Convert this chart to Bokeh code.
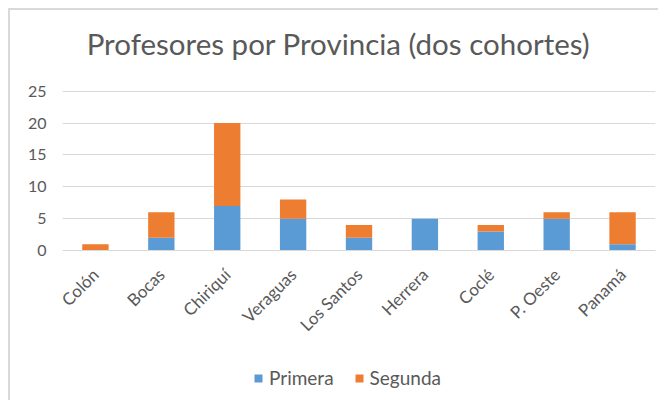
import math
from bokeh.plotting import figure
from bokeh.layouts import column
from bokeh.models import (FactorRange, Range1d, Legend, LegendItem, FixedTicker,
                          ColumnDataSource, Label)
from bokeh.embed import file_html
from bokeh.resources import INLINE

provincias = ["Colón", "Bocas", "Chiriquí", "Veraguas", "Los Santos",
              "Herrera", "Coclé", "P. Oeste", "Panamá"]
primera = [0, 2, 7, 5, 2, 5, 3, 5, 1]
segunda = [1, 4, 13, 3, 2, 0, 1, 1, 5]
y_ticks = [0, 5, 10, 15, 20, 25]
series = ["Primera", "Segunda"]
colors = ["#5B9BD5", "#ED7D31"]
titulo = "Profesores por Provincia (dos cohortes)"

FONT = "Lato"
GREY = "#595959"
BORDER = "2px solid #d9d9d9"

src = ColumnDataSource(dict(x=provincias, Primera=primera, Segunda=segunda))

# title strip
tf = figure(width=650, height=70, x_range=Range1d(0, 1), y_range=Range1d(0, 1),
            output_backend="svg", toolbar_location=None, title=None,
            x_axis_location=None, y_axis_location=None, min_border=0,
            margin=(8, 0, 0, 8), styles={"border-left": BORDER, "border-top": BORDER})
tf.grid.visible = False
tf.outline_line_color = None
tf.add_layout(Label(x=276, y=37, x_units="screen", y_units="screen", text=titulo,
                    text_align="center", text_baseline="middle",
                    text_font=FONT, text_font_size="29.5px", text_color=GREY))

# main chart
p = figure(x_range=FactorRange(*provincias), y_range=Range1d(0, 25.1), title=None,
           frame_width=591, frame_height=160, output_backend="svg", toolbar_location=None,
           min_border_left=52, min_border_right=7, min_border_top=12,
           min_border_bottom=100, margin=(0, 0, 0, 8),
           styles={"border-left": BORDER})

r = p.vbar_stack(series, x="x", width=0.4, color=colors, source=src, line_color=None)

p.xgrid.grid_line_color = None
p.ygrid.grid_line_color = "#d9d9d9"
p.ygrid.grid_line_width = 1
p.yaxis.ticker = FixedTicker(ticks=y_ticks)
p.yaxis.axis_line_color = None
p.xaxis.axis_line_color = "#d9d9d9"
for ax in (p.xaxis, p.yaxis):
    ax.major_tick_line_color = None
    ax.minor_tick_line_color = None
    ax.major_tick_out = 0
    ax.major_tick_in = 0
    ax.minor_tick_out = 0
    ax.major_label_text_font = FONT
    ax.major_label_text_color = GREY
p.yaxis.major_label_text_font_size = "16px"
p.yaxis.major_label_standoff = 16
p.xaxis.major_label_text_font_size = "17px"
p.xaxis.major_label_orientation = math.pi / 4
p.xaxis.major_label_standoff = 21
p.outline_line_color = None

# legend strip below the chart
lf = figure(x_range=FactorRange(*provincias), y_range=Range1d(100, 101), title=None,
            width=650, height=50, output_backend="svg", toolbar_location=None,
            x_axis_location=None, y_axis_location=None, min_border=0,
            margin=(0, 0, 0, 8), styles={"border-left": BORDER})
lf.grid.visible = False
lf.outline_line_color = None
lr = lf.vbar_stack(series, x="x", width=0.4, color=colors, source=src, line_color=None)

legend = Legend(items=[LegendItem(label=s, renderers=[rr]) for s, rr in zip(series, lr)],
                orientation="horizontal", location=(191, 11),
                label_text_font=FONT, label_text_font_size="19px",
                label_text_color=GREY, glyph_width=10, glyph_height=10,
                border_line_color=None, background_fill_alpha=0,
                spacing=20, label_standoff=6, padding=10, margin=0)
lf.add_layout(legend, "center")

layout = column(tf, p, lf, spacing=0)
open("out.html", "w").write(file_html(layout, INLINE))
